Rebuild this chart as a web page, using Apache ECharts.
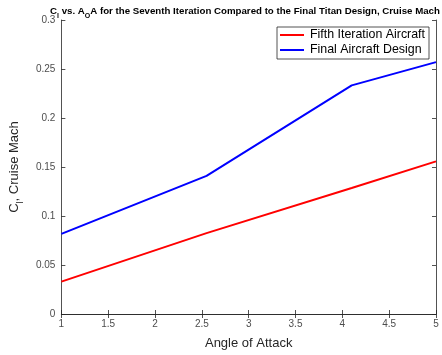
<!DOCTYPE html>
<html>
<head>
<meta charset="utf-8">
<script src="https://cdn.jsdelivr.net/npm/echarts@6/dist/echarts.min.js"></script>
<style>
  html, body { margin: 0; padding: 0; background: #fff; }
  #chart { width: 442px; height: 355px; }
</style>
</head>
<body>
<div id="chart"></div>
<script>
// Angle of attack sample points (deg)
const angleOfAttack = [1, 2.55, 4.1, 5];
// Lift coefficient at cruise Mach for each design
const fifthIterationCl = [0.033, 0.0825, 0.1285, 0.1557];
const finalDesignCl = [0.0817, 0.141, 0.2333, 0.257];

const seriesNames = ['Fifth Iteration Aircraft', 'Final Aircraft Design'];
const seriesColors = ['#ff0000', '#0000ff'];

const font = 'Liberation Sans, Arial, Helvetica, sans-serif';
const axisColor = '#262626';

function pairs(xs, ys) { return xs.map((x, i) => [x, ys[i]]); }

const chart = echarts.init(document.getElementById('chart'), null, { renderer: 'canvas' });

const baseAxis = {
  axisLine: { show: true, lineStyle: { color: axisColor, width: 0.8 } },
  axisTick: { show: true, inside: true, length: 4, lineStyle: { color: axisColor, width: 0.8 } },
  splitLine: { show: false },
};

chart.setOption({
  animation: false,
  backgroundColor: '#ffffff',
  title: {
    text: '{a|C}{s|l}{a| vs. A}{s|O}{a|A for the Seventh Iteration Compared to the Final Titan Design, Cruise Mach}',
    left: 50,
    top: 2,
    padding: 0,
    textStyle: {
      rich: {
        a: { fontFamily: font, fontSize: 9.7, fontWeight: 'bold', color: '#000', verticalAlign: 'bottom', lineHeight: 14 },
        s: { fontFamily: font, fontSize: 7, fontWeight: 'bold', color: '#000', verticalAlign: 'bottom', padding: [0, 0, -4, 0], lineHeight: 14 }
      }
    }
  },
  legend: {
    right: 13,
    top: 27,
    orient: 'vertical',
    itemWidth: 24,
    itemHeight: 2,
    itemGap: 3,
    padding: [2, 4, 3, 3],
    backgroundColor: '#fff',
    borderColor: axisColor,
    borderWidth: 0.8,
    borderRadius: 0,
    icon: 'rect',
    textStyle: { fontFamily: font, fontSize: 12.4, color: '#000', padding: [0, 0, 0, 1] },
    data: seriesNames
  },
  grid: { left: 55.7, right: 6, top: 20, bottom: 35, containLabel: false },
  xAxis: [
    Object.assign({}, baseAxis, {
      type: 'value', min: 1, max: 5, interval: 0.5, position: 'bottom',
      name: 'Angle of Attack', nameLocation: 'middle', nameGap: 23,
      nameTextStyle: { fontFamily: font, fontSize: 13, color: '#262626' },
      axisLabel: { fontFamily: font, fontSize: 10, color: '#4d4d4d', margin: 5 }
    }),
    Object.assign({}, baseAxis, {
      type: 'value', min: 1, max: 5, interval: 0.5, position: 'top',
      axisLabel: { show: false }
    })
  ],
  yAxis: [
    Object.assign({}, baseAxis, {
      type: 'value', min: 0, max: 0.3, interval: 0.05, position: 'left',
      name: '{a|C}{s|l}{a|, Cruise Mach}', nameLocation: 'middle', nameGap: 27, nameRotate: 90,
      nameTextStyle: {
        rich: {
          a: { fontFamily: font, fontSize: 13, color: '#262626', verticalAlign: 'bottom', lineHeight: 16 },
          s: { fontFamily: font, fontSize: 9, color: '#262626', verticalAlign: 'bottom', padding: [0, 0, -4, 0], lineHeight: 16 }
        }
      },
      axisLabel: { fontFamily: font, fontSize: 10, color: '#4d4d4d', margin: 6 }
    }),
    Object.assign({}, baseAxis, {
      type: 'value', min: 0, max: 0.3, interval: 0.05, position: 'right',
      axisLabel: { show: false }
    })
  ],
  series: [
    {
      name: seriesNames[0], type: 'line', data: pairs(angleOfAttack, fifthIterationCl),
      showSymbol: false, symbol: 'none', lineStyle: { color: seriesColors[0], width: 2 },
      itemStyle: { color: seriesColors[0] }
    },
    {
      name: seriesNames[1], type: 'line', data: pairs(angleOfAttack, finalDesignCl),
      showSymbol: false, symbol: 'none', lineStyle: { color: seriesColors[1], width: 2 },
      itemStyle: { color: seriesColors[1] }
    }
  ]
});
</script>
</body>
</html>
